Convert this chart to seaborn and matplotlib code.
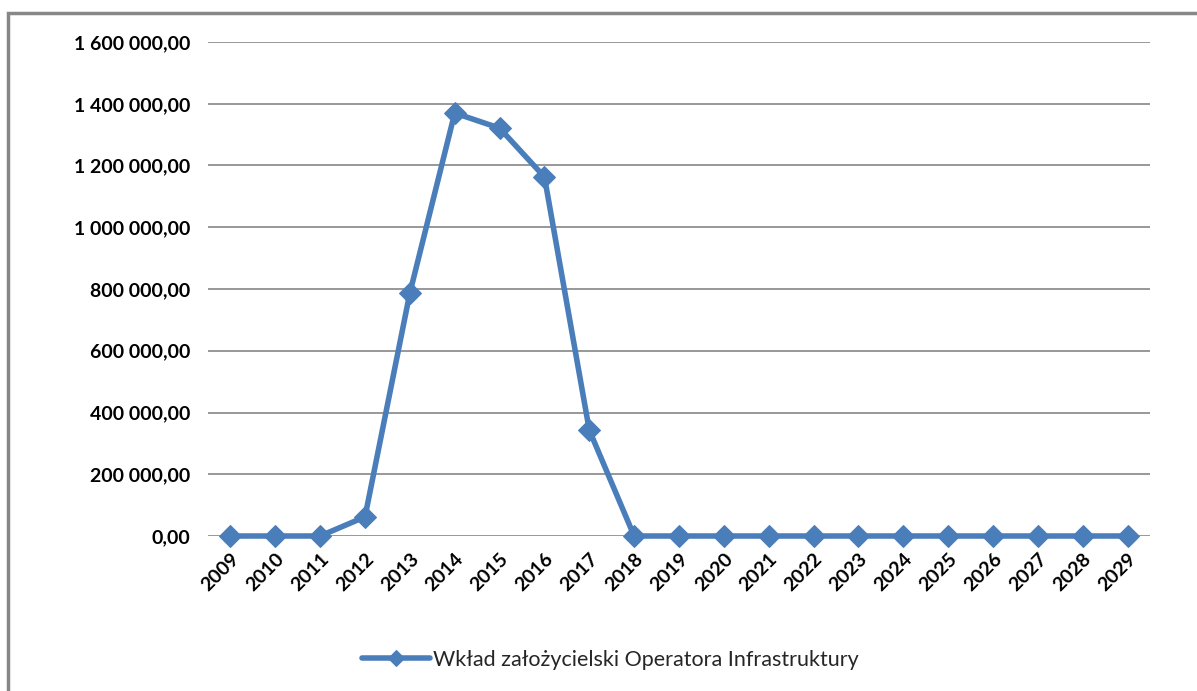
import matplotlib
matplotlib.use('Agg')
import matplotlib.pyplot as plt
import matplotlib.patches as mpatches
from matplotlib.ticker import FuncFormatter
import pandas as pd
import seaborn as sns

# Data
years = [str(y) for y in range(2009, 2030)]
values = [0, 0, 0, 62000, 787000, 1370000, 1321000, 1163000, 343000,
          0, 0, 0, 0, 0, 0, 0, 0, 0, 0, 0, 0]
series_name = 'Wkład założycielski Operatora Infrastruktury'

df = pd.DataFrame({'rok': years, 'wartosc': values})
df['x'] = range(len(years))

sns.set_style('white')
plt.rcParams['font.family'] = ['Lato', 'DejaVu Sans']

fig = plt.figure(figsize=(11.97, 6.91), dpi=100)
ax = fig.add_axes([208 / 1197, 1 - 536 / 691, 942 / 1197, 494 / 691])

sns.lineplot(data=df, x='x', y='wartosc', ax=ax, color='#4a7ebb',
             linewidth=4, marker='D', markersize=11, markeredgecolor='#4a7ebb',
             label=series_name, legend=False)
for ln in ax.lines:
    ln.set_clip_on(False)
    ln.set_zorder(5)

ax.set_xlim(-0.5, len(years) - 0.5)
ax.set_ylim(0, 1600000)
ax.set_yticks(range(0, 1600001, 200000))
ax.yaxis.set_major_formatter(FuncFormatter(
    lambda v, p: f'{v:,.2f}'.replace(',', ' ').replace('.', ',')))
ax.set_xticks(df['x'])
ax.set_xticklabels(years, rotation=45, ha='right', rotation_mode='anchor')
ax.tick_params(axis='both', labelsize=14, length=0, colors='black')
ax.tick_params(axis='x', pad=10)
ax.tick_params(axis='y', pad=13)
for lbl in ax.get_xticklabels() + ax.get_yticklabels():
    lbl.set_fontweight('bold')
ax.grid(axis='y', color='#868686', linewidth=1.2)
ax.set_axisbelow(True)
for s in ax.spines.values():
    s.set_visible(False)
ax.set_xlabel('')
ax.set_ylabel('')

# legend below plot
handles, labels = ax.get_legend_handles_labels()
leg = fig.legend(handles, labels, loc='center', bbox_to_anchor=(610 / 1197, 1 - 660 / 691),
                 frameon=False, fontsize=15.5, handlelength=3.2, handletextpad=0.1)
for h in leg.legend_handles:
    h.set_markersize(8)

# chart area border
border = mpatches.Rectangle((8 / 1197, -0.05), 1.1, 1 - 13 / 691 + 0.05,
                            transform=fig.transFigure, fill=False,
                            edgecolor='#878787', linewidth=2.5)
fig.patches.append(border)

fig.savefig('out.png', dpi=100)
